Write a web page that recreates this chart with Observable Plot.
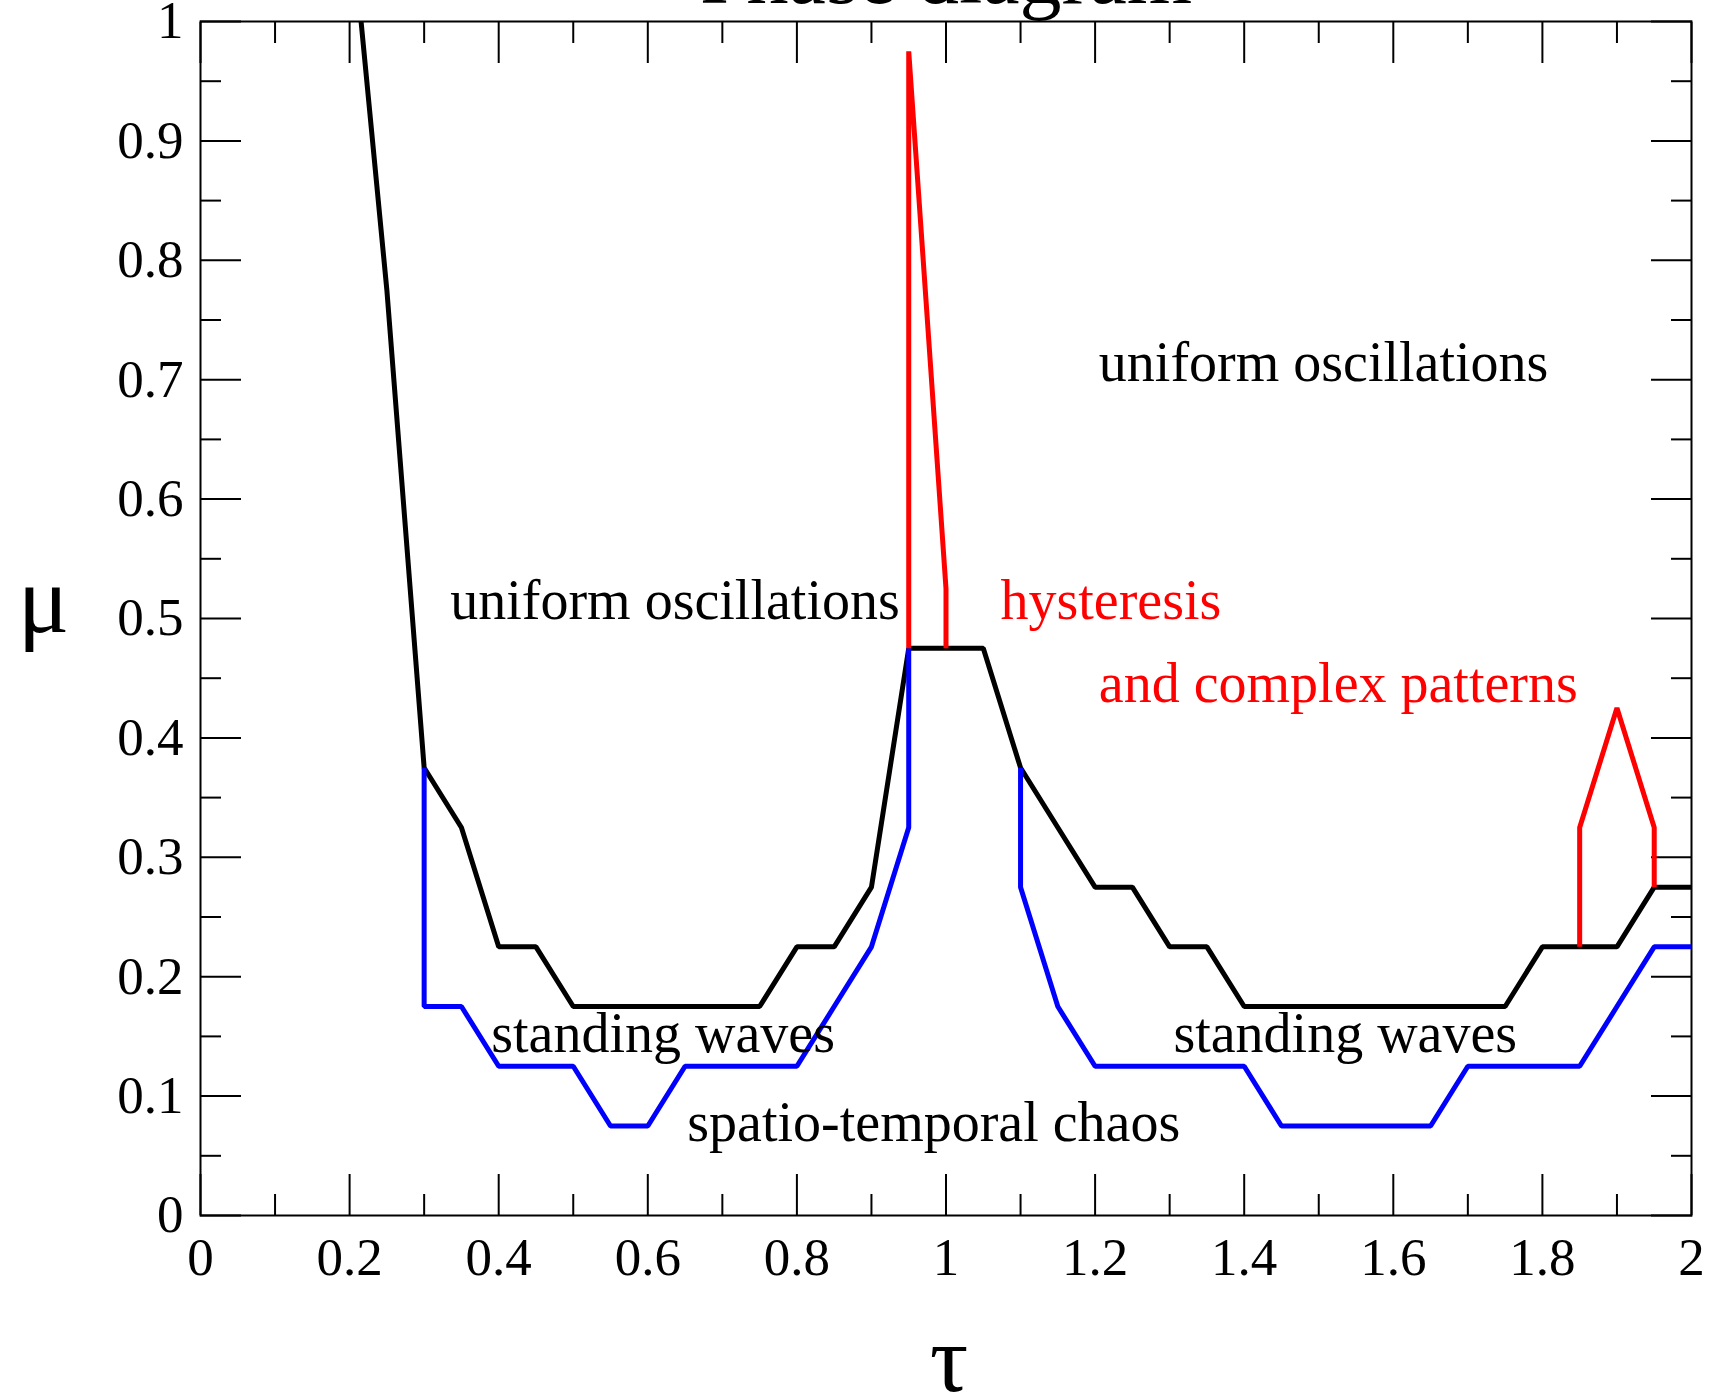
<!DOCTYPE html>
<html>
<head>
<meta charset="utf-8">
<script src="https://cdn.jsdelivr.net/npm/d3@7"></script>
<script src="https://cdn.jsdelivr.net/npm/@observablehq/plot@0.6"></script>
<style>
  body { margin: 0; background: #fff; }
</style>
</head>
<body>
<div id="chart"></div>
<script>
// Boundary between uniform oscillations and standing waves (black)
const blackTau = [0.2, 0.25, 0.3, 0.35, 0.4, 0.45, 0.5, 0.75, 0.8, 0.85, 0.9, 0.95, 1.05, 1.1, 1.15, 1.2, 1.25, 1.3, 1.35, 1.4, 1.75, 1.8, 1.9, 1.95, 2.0];
const blackMu  = [1.1, 0.775, 0.375, 0.325, 0.225, 0.225, 0.175, 0.175, 0.225, 0.225, 0.275, 0.475, 0.475, 0.375, 0.325, 0.275, 0.275, 0.225, 0.225, 0.175, 0.175, 0.225, 0.225, 0.275, 0.275];

// Boundary of spatio-temporal chaos (blue), two branches
const blueLeftTau  = [0.3, 0.3, 0.35, 0.4, 0.5, 0.55, 0.6, 0.65, 0.8, 0.85, 0.9, 0.95, 0.95];
const blueLeftMu   = [0.375, 0.175, 0.175, 0.125, 0.125, 0.075, 0.075, 0.125, 0.125, 0.175, 0.225, 0.325, 0.475];
const blueRightTau = [1.1, 1.1, 1.15, 1.2, 1.4, 1.45, 1.65, 1.7, 1.85, 1.9, 1.95, 2.0];
const blueRightMu  = [0.375, 0.275, 0.175, 0.125, 0.125, 0.075, 0.075, 0.125, 0.125, 0.175, 0.225, 0.225];

// Hysteresis regions (red)
const redLeftTau  = [0.95, 0.95, 1.0, 1.0];
const redLeftMu   = [0.475, 0.975, 0.525, 0.475];
const redRightTau = [1.85, 1.85, 1.9, 1.95, 1.95];
const redRightMu  = [0.225, 0.325, 0.425, 0.325, 0.275];

// Region labels
const labelText  = ["uniform oscillations", "uniform oscillations", "hysteresis", "and complex patterns", "standing waves", "standing waves", "spatio-temporal chaos"];
const labelTau   = [1.205, 0.335, 1.073, 1.205, 0.39, 1.305, 0.653];
const labelMu    = [0.699, 0.5, 0.5, 0.43, 0.137, 0.137, 0.062];
const labelColor = ["black", "black", "red", "red", "black", "black", "black"];

// Ticks
const xMajorTicks = [0, 0.2, 0.4, 0.6, 0.8, 1, 1.2, 1.4, 1.6, 1.8, 2];
const xMinorTicks = [0.1, 0.3, 0.5, 0.7, 0.9, 1.1, 1.3, 1.5, 1.7, 1.9];
const yMajorTicks = [0, 0.1, 0.2, 0.3, 0.4, 0.5, 0.6, 0.7, 0.8, 0.9, 1];
const yMinorTicks = [0.05, 0.15, 0.25, 0.35, 0.45, 0.55, 0.65, 0.75, 0.85, 0.95];

const titleText = "Phase diagram";
const xLabel = "τ";
const yLabel = "μ";

const toRows = (tau, mu, series) => tau.map((t, i) => ({tau: t, mu: mu[i], series}));
const blackRows = toRows(blackTau, blackMu, "black");
const blueRows = [...toRows(blueLeftTau, blueLeftMu, "bl"), ...toRows(blueRightTau, blueRightMu, "br")];
const redRows = [...toRows(redLeftTau, redLeftMu, "rl"), ...toRows(redRightTau, redRightMu, "rr")];
const labels = labelText.map((t, i) => ({text: t, tau: labelTau[i], mu: labelMu[i], color: labelColor[i]}));

const fmt = d => String(+(+d).toFixed(2));
const lineStyle = {strokeWidth: 5, strokeLinejoin: "miter", strokeLinecap: "butt", clip: true};

const chart = Plot.plot({
  width: 1716,
  height: 1396,
  marginLeft: 200,
  marginRight: 25,
  marginTop: 21,
  marginBottom: 181,
  x: {domain: [0, 2], label: null},
  y: {domain: [0, 1], label: null},
  style: {fontFamily: '"Liberation Serif", "Times New Roman", serif', fontSize: "53px", color: "black", background: "white"},
  marks: [
    // inward ticks on all four sides
    Plot.axisX(xMajorTicks, {anchor: "bottom", tickSize: -41, strokeWidth: 2, fill: "none", label: null}),
    Plot.axisX(xMinorTicks, {anchor: "bottom", tickSize: -21, strokeWidth: 2, fill: "none", label: null}),
    Plot.axisX(xMajorTicks, {anchor: "top", tickSize: -41, strokeWidth: 2, fill: "none", label: null}),
    Plot.axisX(xMinorTicks, {anchor: "top", tickSize: -21, strokeWidth: 2, fill: "none", label: null}),
    Plot.axisY(yMajorTicks, {anchor: "left", tickSize: -41, strokeWidth: 2, fill: "none", label: null}),
    Plot.axisY(yMinorTicks, {anchor: "left", tickSize: -21, strokeWidth: 2, fill: "none", label: null}),
    Plot.axisY(yMajorTicks, {anchor: "right", tickSize: -41, strokeWidth: 2, fill: "none", label: null}),
    Plot.axisY(yMinorTicks, {anchor: "right", tickSize: -21, strokeWidth: 2, fill: "none", label: null}),
    // tick labels
    Plot.axisX(xMajorTicks, {anchor: "bottom", tickSize: 0, tickPadding: 22, tickFormat: fmt, label: null, fill: "black"}),
    Plot.axisY(yMajorTicks, {anchor: "left", tickSize: 0, tickPadding: 17, tickFormat: fmt, label: null, fill: "black"}),
    // frame
    Plot.frame({stroke: "black", strokeWidth: 2}),
    // boundaries
    Plot.line(blackRows, {x: "tau", y: "mu", z: "series", stroke: "black", ...lineStyle}),
    Plot.line(blueRows, {x: "tau", y: "mu", z: "series", stroke: "#0000ff", ...lineStyle}),
    Plot.line(redRows, {x: "tau", y: "mu", z: "series", stroke: "#ff0000", ...lineStyle}),
    // region labels
    Plot.text(labels, {x: "tau", y: "mu", text: "text", fill: "color", textAnchor: "start", lineAnchor: "bottom", fontSize: 56}),
    // title (mostly cut off at the top, as in the reference)
    Plot.text([titleText], {frameAnchor: "top", lineAnchor: "bottom", dy: -19, fontSize: 84, fill: "black"}),
    // axis labels
    Plot.text([yLabel], {frameAnchor: "left", textAnchor: "middle", lineAnchor: "bottom", dx: -157, dy: 13, fontSize: 96, fill: "black"}),
    Plot.text([xLabel], {frameAnchor: "bottom", textAnchor: "middle", lineAnchor: "bottom", dx: 3, dy: 175, fontSize: 96, fill: "black"})
  ]
});
document.getElementById("chart").appendChild(chart);
</script>
</body>
</html>
